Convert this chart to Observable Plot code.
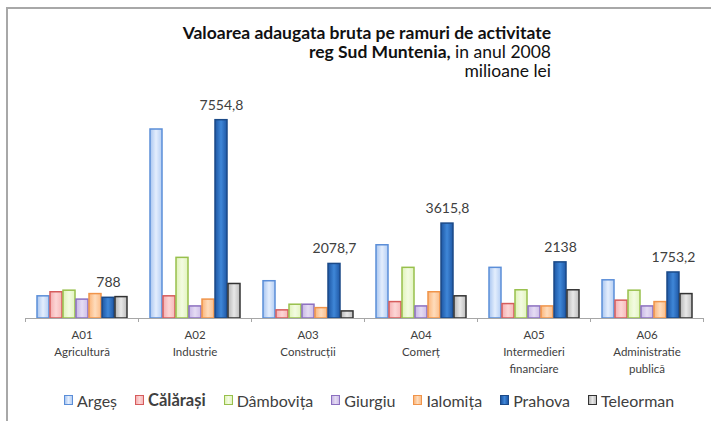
<!DOCTYPE html>
<html>
<head>
<meta charset="utf-8">
<script src="https://cdn.jsdelivr.net/npm/d3@7"></script>
<script src="https://cdn.jsdelivr.net/npm/@observablehq/plot@0.6"></script>
<style>
  html, body { margin: 0; padding: 0; background: #fff; }
  #wrap { position: relative; width: 711px; height: 421px; overflow: hidden; font-family: Lato, "Open Sans", sans-serif; }
  #bleft { position: absolute; left: 6px; top: 7px; width: 2px; height: 420px; background: #a8a8a8; }
  #btop { position: absolute; left: 6px; top: 7px; width: 710px; height: 2px; background: #a8a8a8; }
  #title { position: absolute; right: 160px; top: 23px; text-align: right; font-size: 17.5px; line-height: 19px; color: #111; z-index: 2; white-space: nowrap; }
  #chart { position: absolute; left: 0; top: 0; }
  #legend { position: absolute; left: 64px; top: 390px; display: flex; align-items: center; gap: 18px; font-size: 16px; color: #404040; z-index: 2; white-space: nowrap; }
  #legend .it { display: flex; align-items: center; }
  #legend .sw { width: 7px; height: 8px; margin-right: 4px; box-sizing: content-box; }
</style>
</head>
<body>
<div id="wrap">
  <div id="bleft"></div><div id="btop"></div>
  <div id="title"><b>Valoarea adaugata bruta pe ramuri de activitate</b><br><b>reg Sud Muntenia,</b> in anul 2008<br>milioane lei</div>
  <div id="chart"></div>
  <div id="legend"></div>
</div>
<svg width="0" height="0" style="position:absolute">
  <defs id="gdefs"></defs>
</svg>
<script>
// ---- data ----
const categories = ["A01", "A02", "A03", "A04", "A05", "A06"];
const categoryNames = ["Agricultură", "Industrie", "Construcții", "Comerț", "Intermedieri\nfinanciare", "Administratie\npublică"];
const series = ["Argeș", "Călărași", "Dâmbovița", "Giurgiu", "Ialomița", "Prahova", "Teleorman"];
const arges     = [845, 7200, 1420, 2790, 1930, 1455];
const calarasi  = [1000, 845, 310, 625, 550, 680];
const dambovita = [1060, 2310, 525, 1930, 1075, 1060];
const giurgiu   = [720, 460, 525, 460, 460, 460];
const ialomita  = [930, 720, 395, 1000, 460, 625];
const prahova   = [788, 7554.8, 2078.7, 3615.8, 2138, 1753.2];
const teleorman = [815, 1315, 270, 845, 1075, 930];
const seriesValues = [arges, calarasi, dambovita, giurgiu, ialomita, prahova, teleorman];
const labelledSeries = "Prahova";

// ---- styles ----
const gradients = [
  ["#a8c5f0", "#e4eefd", "#b4cef4"],
  ["#f5aeb0", "#fcd6d6", "#f6b8b9"],
  ["#dff3b8", "#f3fbe2", "#e2f4bf"],
  ["#c7b6e6", "#e5dcf3", "#cdbde8"],
  ["#fbb57a", "#fedcbc", "#fbbd89"],
  ["#1d56a3", "#3f87d8", "#1f58a6"],
  ["#b5b5b5", "#e8e8e8", "#bdbdbd"]
];
const strokes = ["#5b8ed8", "#d65c5c", "#98c04c", "#8c70c0", "#f0944a", "#1b4a88", "#333333"];

const defs = document.getElementById("gdefs");
gradients.forEach((g, i) => {
  const lg = document.createElementNS("http://www.w3.org/2000/svg", "linearGradient");
  lg.setAttribute("id", "g" + i);
  lg.setAttribute("x1", "0"); lg.setAttribute("x2", "1"); lg.setAttribute("y1", "0"); lg.setAttribute("y2", "0");
  [0, 0.5, 1].forEach((o, k) => {
    const st = document.createElementNS("http://www.w3.org/2000/svg", "stop");
    st.setAttribute("offset", o);
    st.setAttribute("stop-color", g[k]);
    lg.appendChild(st);
  });
  defs.appendChild(lg);
});

const data = [];
series.forEach((s, si) => categories.forEach((c, ci) => data.push({cat: c, series: s, value: seriesValues[si][ci]})));

const fmt = v => String(v).replace(".", ",");
const facetW = 113;

const plot = Plot.plot({
  width: 711,
  height: 421,
  marginLeft: 25,
  marginRight: 8,
  marginTop: 108,
  marginBottom: 103,
  style: {fontFamily: "Lato, 'Open Sans', sans-serif", color: "#404040", background: "transparent", overflow: "visible"},
  fx: {domain: categories, padding: 0, axis: null, label: null},
  x: {domain: series, paddingInner: 0.08, paddingOuter: 0.7, axis: null},
  y: {domain: [0, 8000], axis: null},
  marks: [
    ...series.map((s, i) => Plot.barY(data.filter(d => d.series === s), {
      fx: "cat", x: "series", y: "value",
      fill: `url(#g${i})`, stroke: strokes[i], strokeWidth: 1.5
    })),
    Plot.ruleY([0], {stroke: "#a6a6a6", strokeWidth: 1}),
    Plot.axisFx({anchor: "bottom", label: null, tickSize: 4, tickFormat: () => "", dx: -facetW / 2, stroke: "#a6a6a6"}),
    Plot.axisFx({anchor: "bottom", label: null, ticks: ["A06"], tickSize: 4, tickFormat: () => "", dx: facetW / 2, stroke: "#a6a6a6"}),
    Plot.axisFx({anchor: "bottom", label: null, tickSize: 0, tickPadding: 9, fontSize: 11.5, lineHeight: 1.45,
      tickFormat: d => d + "\n" + categoryNames[categories.indexOf(d)]}),
    Plot.text(data.filter(d => d.series === labelledSeries), {
      fx: "cat", x: "series", y: "value", text: d => fmt(d.value),
      dy: -15, fontSize: 14, fill: "#404040"
    })
  ]
});
document.getElementById("chart").appendChild(plot);

// legend
const legend = document.getElementById("legend");
series.forEach((s, i) => {
  const it = document.createElement("div");
  it.className = "it";
  const sw = document.createElement("span");
  sw.className = "sw";
  const g = gradients[i];
  sw.style.background = `linear-gradient(to right, ${g[0]}, ${g[1]}, ${g[2]})`;
  sw.style.border = `1.5px solid ${strokes[i]}`;
  const t = document.createElement("span");
  t.textContent = s;
  if (s === "Călărași") { t.style.fontWeight = "bold"; t.style.fontSize = "16.5px"; }
  it.appendChild(sw); it.appendChild(t);
  legend.appendChild(it);
});
</script>
</body>
</html>
